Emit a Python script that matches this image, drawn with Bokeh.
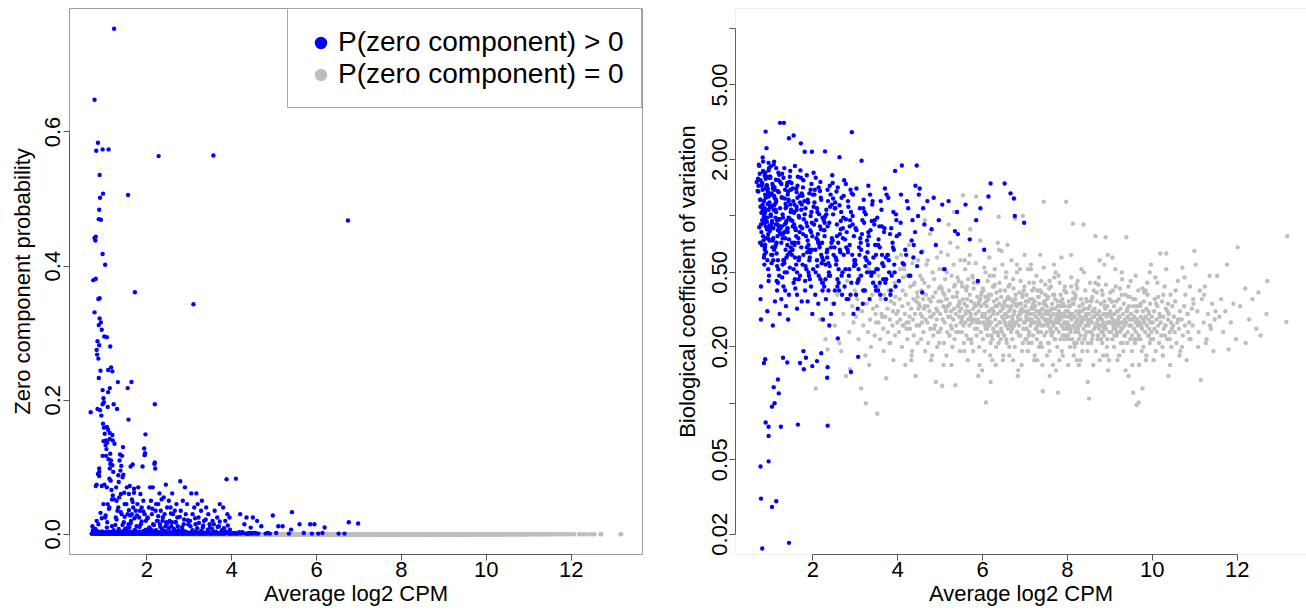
from bokeh.plotting import figure
from bokeh.layouts import row
from bokeh.models import FixedTicker, Legend, LegendItem, BoxAnnotation, Range1d
from bokeh.embed import file_html
from bokeh.resources import INLINE

# ---------------------------------------------------------------------------
# Genes with a non-zero zero-component probability (drawn in blue)
# average log2 CPM, zero-component probability, biological CV
# ---------------------------------------------------------------------------
blue_cpm = [
    # 0.68 - 1.0
    0.77, 0.85, 0.81, 0.96, 0.89, 0.97, 0.90, 0.88, 0.87, 0.92,
    0.77, 0.80, 0.79, 0.96, 0.74, 0.80, 0.89, 0.86, 0.77, 0.89,
    0.92, 0.87, 0.94, 0.84, 0.88, 0.82, 0.83, 0.86, 0.91, 0.87,
    0.96, 0.98, 0.99, 0.96, 0.68, 0.84, 0.90, 0.93, 0.97, 0.99,
    0.98, 0.96, 0.88, 0.88, 0.88, 0.82, 0.85, 0.80, 0.94, 0.72,
    0.75, 0.78, 0.83, 0.86, 0.91, 0.95, 0.99, 0.73, 0.76, 0.81,
    0.84, 0.89, 0.93, 0.97, 0.70, 0.74, 0.79, 0.82, 0.87, 0.92,
    0.95, 0.98, 0.71, 0.76, 0.78, 0.83, 0.85, 0.90, 0.94, 0.99,
    0.89, 0.96, 0.77, 0.78, 0.81, 0.72, 0.93, 0.86, 0.91, 0.97,
    # very low BCV
    1.10, 1.04, 0.89, 0.96, 1.25, 1.65, 2.35, 0.96, 0.96, 0.77,
    0.78, 1.14, 1.04, 1.44, 0.81,
    # low BCV
    0.85, 0.88, 1.30, 1.40, 1.70, 1.79, 1.99, 2.10, 2.35, 1.78,
    1.84, 2.34, 1.18, 1.20, 1.08, 2.20, 3.07, 2.90, 2.59, 2.39,
    # 1.0 - 1.25
    1.23, 1.10, 1.02, 1.00, 1.06, 1.14, 1.09, 1.16, 1.19, 1.09,
    1.13, 1.22, 1.06, 1.01, 1.07, 1.09, 1.13, 1.19, 1.13, 1.03,
    1.05, 1.20, 1.24, 1.14, 1.19, 1.12, 1.06, 1.17, 1.20, 1.13,
    1.21, 1.00, 1.15, 1.04, 1.10, 1.16, 1.08, 1.11, 1.02, 1.18,
    1.01, 1.03, 1.05, 1.07, 1.09, 1.11, 1.12, 1.14, 1.15, 1.17,
    1.18, 1.20, 1.21, 1.22, 1.23, 1.24, 1.06, 1.10, 1.16, 1.04,
    # 1.25 - 1.5
    1.32, 1.44, 1.37, 1.42, 1.40, 1.36, 1.38, 1.45, 1.33, 1.43,
    1.34, 1.30, 1.28, 1.35, 1.48, 1.31, 1.41, 1.27, 1.46, 1.39,
    1.29, 1.47, 1.26, 1.49, 1.33, 1.26, 1.27, 1.28, 1.29, 1.30,
    1.31, 1.32, 1.34, 1.35, 1.36, 1.37, 1.38, 1.39, 1.40, 1.41,
    1.42, 1.43, 1.44, 1.45, 1.46, 1.47, 1.48, 1.49, 1.35, 1.41,
    # 1.5 - 1.75
    1.56, 1.72, 1.64, 1.55, 1.57, 1.62, 1.67, 1.53, 1.60, 1.70,
    1.58, 1.65, 1.52, 1.68, 1.74, 1.55, 1.61, 1.71, 1.63, 1.57,
    1.50, 1.51, 1.52, 1.54, 1.55, 1.57, 1.58, 1.59, 1.61, 1.62,
    1.63, 1.64, 1.66, 1.67, 1.68, 1.69, 1.70, 1.71, 1.72, 1.73,
    1.74, 1.59,
    # 1.75 - 2.0
    1.97, 1.94, 1.95, 1.96, 1.90, 1.80, 1.85, 1.92, 1.78, 1.88,
    1.95, 1.82, 1.98, 1.86, 1.76, 1.75, 1.76, 1.77, 1.78, 1.79,
    1.81, 1.82, 1.83, 1.84, 1.85, 1.86, 1.87, 1.88, 1.89, 1.90,
    1.91, 1.92, 1.93, 1.94, 1.96, 1.97, 1.98, 1.99,
    # 2.0 - 2.25
    2.19, 2.19, 2.20, 2.18, 2.08, 2.14, 2.10, 2.22, 2.05, 2.21,
    2.12, 2.02, 2.24, 2.15, 2.06, 2.00, 2.01, 2.03, 2.04, 2.06,
    2.07, 2.09, 2.10, 2.11, 2.13, 2.14, 2.16, 2.17, 2.18, 2.20,
    2.22, 2.23, 2.24, 2.12,
    # 2.25 - 2.5
    2.28, 2.45, 2.30, 2.40, 2.35, 2.27, 2.48, 2.33, 2.42, 2.38,
    2.26, 2.46, 2.31, 2.44, 2.36, 2.25, 2.27, 2.29, 2.30, 2.32,
    2.34, 2.35, 2.37, 2.39, 2.40, 2.41, 2.43, 2.45, 2.47, 2.49,
    2.29, 2.38,
    # 2.5 - 2.75
    2.60, 2.52, 2.70, 2.56, 2.66, 2.62, 2.72, 2.54, 2.68, 2.58,
    2.64, 2.74, 2.50, 2.51, 2.53, 2.55, 2.57, 2.59, 2.61, 2.63,
    2.65, 2.67, 2.69, 2.71, 2.73, 2.61, 2.66, 2.56,
    # 2.75 - 3.0
    2.79, 2.90, 2.85, 2.95, 2.80, 2.92, 2.88, 2.98, 2.83, 2.75,
    2.76, 2.78, 2.80, 2.82, 2.84, 2.86, 2.87, 2.89, 2.91, 2.93,
    2.94, 2.96, 2.97, 2.99,
    # 3.0 - 3.25
    3.10, 3.17, 3.05, 3.20, 3.12, 3.08, 3.22, 3.02, 3.15, 3.00,
    3.01, 3.03, 3.06, 3.09, 3.11, 3.14, 3.16, 3.19, 3.21, 3.24,
    # 3.25 - 3.5
    3.30, 3.40, 3.28, 3.45, 3.35, 3.48, 3.32, 3.25, 3.27, 3.29,
    3.31, 3.34, 3.36, 3.38, 3.41, 3.43, 3.46, 3.49,
    # 3.5 - 3.75
    3.57, 3.72, 3.60, 3.66, 3.55, 3.70, 3.50, 3.52, 3.54, 3.58,
    3.62, 3.64, 3.68, 3.71, 3.74,
    # 3.75 - 4.0
    3.88, 3.80, 3.90, 3.95, 3.85, 3.76, 3.78, 3.83, 3.92, 3.97, 3.94,
    # 4.0 - 4.5
    4.10, 4.20, 4.35, 4.30, 4.45, 4.04, 4.08, 4.15, 4.25, 4.38, 4.48, 4.42,
    # 4.5 - 5.0
    4.50, 4.60, 4.97, 4.70, 4.80, 4.85, 4.58, 4.90,
    # 5.0 - 5.5
    5.42, 5.10, 5.20, 5.40, 5.35, 5.05,
    # 5.5 - 6.0
    5.60, 5.85, 5.95, 5.89, 5.70,
    # 6.0 - 7.0
    6.19, 6.04, 6.52, 6.66, 6.74, 6.76, 6.98, 6.14,
    # further genes along the low-probability band
    1.02, 1.08, 1.15, 1.21, 1.27, 1.33, 1.38, 1.44, 1.51, 1.57,
    1.63, 1.69, 1.74, 1.81, 1.87, 1.93, 1.99, 2.04, 2.11, 2.16,
    2.23, 2.28, 2.34, 2.41, 2.47, 2.53, 2.58, 2.64, 2.71, 2.77,
    2.83, 2.89, 2.94, 3.01, 3.07, 3.13, 3.18, 3.24, 3.31, 3.37,
    3.42, 3.47, 3.53, 3.59, 3.63, 3.69, 3.73, 3.79, 3.84, 3.89,
    3.93, 3.98, 4.03, 4.07, 4.12, 4.18, 4.22, 4.27, 4.33, 4.37,
    4.41, 4.46, 4.52, 4.56, 4.63, 0.82, 0.86, 0.91, 0.94, 0.98,
    1.03, 1.07, 1.12, 1.18, 1.23, 1.29, 1.34, 1.39, 1.43, 1.48,
    1.53, 1.58, 1.62, 1.67, 1.73, 1.77, 1.83, 1.88, 1.92, 1.98,
    2.02, 2.07, 2.13, 2.17, 2.22, 2.27, 2.32, 2.37, 2.43, 2.48,
    2.52, 2.57, 2.63, 2.68, 2.73, 2.78, 2.84, 2.87, 2.92, 2.97,
    3.03, 3.08, 3.14, 3.19, 3.23, 3.28, 3.33, 3.39, 3.44, 3.49,
    3.54, 3.58, 3.63, 3.67, 3.72, 3.77, 3.82, 3.86, 3.91, 3.96,
    0.83, 0.87, 0.92, 0.95, 0.97, 1.01, 1.05, 1.09, 1.13, 1.17,
    1.22, 1.26, 1.31, 1.36, 1.41, 1.46, 1.52, 1.56, 1.61, 1.66,
]

blue_p0 = [
    0.648, 0.584, 0.572, 0.574, 0.536, 0.508, 0.502, 0.484, 0.470, 0.469,
    0.442, 0.444, 0.438, 0.418, 0.379, 0.381, 0.352, 0.351, 0.331, 0.322,
    0.316, 0.312, 0.305, 0.288, 0.282, 0.275, 0.268, 0.262, 0.244, 0.233,
    0.215, 0.203, 0.197, 0.194, 0.182, 0.187, 0.185, 0.177, 0.165, 0.159,
    0.139, 0.117, 0.098, 0.093, 0.087, 0.074, 0.090, 0.072, 0.072, 0.012,
    0.004, 0.002, 0.001, 0.003, 0.001, 0.002, 0.001, 0.006, 0.002, 0.001,
    0.004, 0.001, 0.002, 0.003, 0.001, 0.002, 0.008, 0.001, 0.002, 0.001,
    0.003, 0.002, 0.001, 0.001, 0.002, 0.005, 0.001, 0.002, 0.001, 0.002,
    0.002, 0.001, 0.003, 0.001, 0.002, 0.001, 0.004, 0.002, 0.001, 0.002,
    # very low BCV
    0.002, 0.140, 0.001, 0.003, 0.001, 0.030, 0.002, 0.001, 0.004, 0.002,
    0.001, 0.120, 0.002, 0.001, 0.003,
    # low BCV
    0.002, 0.001, 0.003, 0.001, 0.062, 0.002, 0.001, 0.004, 0.001, 0.002,
    0.035, 0.001, 0.002, 0.001, 0.190, 0.003, 0.001, 0.002, 0.018, 0.001,
    # 1.0 - 1.25
    0.754, 0.574, 0.402, 0.295, 0.294, 0.280, 0.245, 0.249, 0.243, 0.212,
    0.218, 0.194, 0.160, 0.150, 0.137, 0.156, 0.151, 0.148, 0.142, 0.133,
    0.127, 0.140, 0.135, 0.105, 0.103, 0.083, 0.070, 0.066, 0.058, 0.098,
    0.093, 0.074, 0.080, 0.117, 0.112, 0.110, 0.045, 0.038, 0.025, 0.052,
    0.002, 0.001, 0.003, 0.001, 0.002, 0.004, 0.001, 0.002, 0.001, 0.003,
    0.001, 0.002, 0.001, 0.006, 0.002, 0.001, 0.010, 0.001, 0.002, 0.001,
    # 1.25 - 1.5
    0.227, 0.130, 0.119, 0.117, 0.102, 0.110, 0.095, 0.089, 0.088, 0.085,
    0.078, 0.187, 0.070, 0.055, 0.045, 0.035, 0.030, 0.025, 0.018, 0.060,
    0.050, 0.062, 0.014, 0.008, 0.040, 0.001, 0.002, 0.001, 0.003, 0.001,
    0.002, 0.001, 0.004, 0.001, 0.002, 0.001, 0.003, 0.001, 0.002, 0.001,
    0.001, 0.002, 0.001, 0.005, 0.001, 0.002, 0.001, 0.003, 0.001, 0.002,
    # 1.5 - 1.75
    0.506, 0.361, 0.227, 0.218, 0.171, 0.101, 0.104, 0.070, 0.072, 0.068,
    0.060, 0.052, 0.045, 0.040, 0.035, 0.030, 0.028, 0.024, 0.020, 0.015,
    0.001, 0.002, 0.001, 0.003, 0.001, 0.002, 0.001, 0.004, 0.001, 0.002,
    0.001, 0.003, 0.001, 0.002, 0.001, 0.001, 0.002, 0.006, 0.001, 0.002,
    0.001, 0.010,
    # 1.75 - 2.0
    0.149, 0.128, 0.118, 0.121, 0.101, 0.070, 0.060, 0.050, 0.045, 0.040,
    0.030, 0.025, 0.020, 0.015, 0.012, 0.001, 0.002, 0.001, 0.003, 0.001,
    0.002, 0.001, 0.001, 0.004, 0.002, 0.001, 0.003, 0.001, 0.002, 0.001,
    0.001, 0.002, 0.005, 0.001, 0.002, 0.001, 0.003, 0.001,
    # 2.0 - 2.25
    0.194, 0.107, 0.098, 0.105, 0.070, 0.070, 0.050, 0.045, 0.040, 0.035,
    0.030, 0.025, 0.020, 0.015, 0.010, 0.001, 0.002, 0.001, 0.003, 0.001,
    0.002, 0.001, 0.004, 0.001, 0.002, 0.001, 0.003, 0.001, 0.002, 0.001,
    0.001, 0.002, 0.001, 0.006,
    # 2.25 - 2.5
    0.564, 0.074, 0.061, 0.055, 0.052, 0.045, 0.040, 0.035, 0.030, 0.025,
    0.020, 0.018, 0.015, 0.012, 0.008, 0.001, 0.002, 0.001, 0.003, 0.001,
    0.002, 0.001, 0.001, 0.004, 0.002, 0.001, 0.003, 0.001, 0.002, 0.001,
    0.002, 0.001,
    # 2.5 - 2.75
    0.061, 0.050, 0.045, 0.040, 0.035, 0.030, 0.025, 0.020, 0.018, 0.012,
    0.008, 0.006, 0.001, 0.002, 0.001, 0.003, 0.001, 0.002, 0.001, 0.001,
    0.004, 0.002, 0.001, 0.003, 0.001, 0.002, 0.001, 0.002,
    # 2.75 - 3.0
    0.079, 0.070, 0.050, 0.045, 0.035, 0.030, 0.022, 0.015, 0.010, 0.001,
    0.002, 0.001, 0.003, 0.001, 0.002, 0.001, 0.001, 0.004, 0.002, 0.001,
    0.003, 0.001, 0.002, 0.001,
    # 3.0 - 3.25
    0.343, 0.061, 0.061, 0.045, 0.040, 0.030, 0.025, 0.020, 0.015, 0.001,
    0.002, 0.001, 0.003, 0.001, 0.002, 0.001, 0.004, 0.001, 0.002, 0.001,
    # 3.25 - 3.5
    0.050, 0.040, 0.035, 0.030, 0.020, 0.015, 0.010, 0.001, 0.002, 0.001,
    0.003, 0.001, 0.002, 0.001, 0.001, 0.004, 0.002, 0.001,
    # 3.5 - 3.75
    0.565, 0.045, 0.035, 0.025, 0.020, 0.012, 0.001, 0.002, 0.001, 0.003,
    0.001, 0.002, 0.001, 0.001, 0.002,
    # 3.75 - 4.0
    0.082, 0.040, 0.030, 0.025, 0.020, 0.001, 0.002, 0.001, 0.003, 0.001, 0.002,
    # 4.0 - 4.5
    0.083, 0.030, 0.025, 0.015, 0.010, 0.001, 0.002, 0.001, 0.003, 0.001, 0.002, 0.001,
    # 4.5 - 5.0
    0.025, 0.020, 0.028, 0.012, 0.001, 0.002, 0.001, 0.001,
    # 5.0 - 5.5
    0.033, 0.012, 0.012, 0.007, 0.001, 0.002,
    # 5.5 - 6.0
    0.015, 0.015, 0.015, 0.001, 0.002,
    # 6.0 - 7.0
    0.010, 0.001, 0.001, 0.001, 0.468, 0.018, 0.016, 0.002,
    # further genes along the low-probability band
    0.001, 0.002, 0.001, 0.003, 0.001, 0.002, 0.001, 0.001, 0.002, 0.001,
    0.002, 0.001, 0.004, 0.001, 0.002, 0.001, 0.003, 0.001, 0.002, 0.001,
    0.001, 0.002, 0.001, 0.001, 0.003, 0.001, 0.002, 0.001, 0.001, 0.002,
    0.001, 0.001, 0.002, 0.001, 0.004, 0.001, 0.002, 0.001, 0.001, 0.002,
    0.001, 0.002, 0.001, 0.001, 0.003, 0.001, 0.002, 0.001, 0.001, 0.002,
    0.001, 0.001, 0.002, 0.001, 0.001, 0.003, 0.001, 0.002, 0.001, 0.001,
    0.002, 0.001, 0.001, 0.002, 0.001, 0.020, 0.015, 0.032, 0.024, 0.045,
    0.028, 0.018, 0.040, 0.012, 0.052, 0.022, 0.008, 0.033, 0.014, 0.026,
    0.009, 0.036, 0.016, 0.048, 0.006, 0.028, 0.011, 0.019, 0.034, 0.007,
    0.024, 0.009, 0.038, 0.014, 0.006, 0.027, 0.011, 0.020, 0.005, 0.016,
    0.009, 0.031, 0.005, 0.018, 0.012, 0.026, 0.007, 0.015, 0.004, 0.021,
    0.012, 0.006, 0.024, 0.009, 0.017, 0.005, 0.013, 0.022, 0.007, 0.010,
    0.008, 0.015, 0.004, 0.011, 0.019, 0.006, 0.009, 0.004, 0.013, 0.007,
    0.001, 0.002, 0.001, 0.001, 0.002, 0.001, 0.003, 0.001, 0.002, 0.001,
    0.002, 0.001, 0.001, 0.003, 0.001, 0.002, 0.001, 0.001, 0.002, 0.001,
]

blue_bcv = [
    1.55, 1.20, 0.95, 1.75, 0.88, 1.32, 0.76, 1.05, 1.64, 0.93,
    1.12, 1.48, 0.82, 1.27, 1.85, 0.70, 1.40, 0.97, 1.22, 1.58,
    0.85, 1.10, 1.36, 0.92, 1.70, 1.15, 0.78, 1.02, 1.45, 0.66,
    1.30, 0.89, 1.62, 1.08, 1.52, 0.74, 1.26, 0.98, 1.80, 0.83,
    1.18, 0.45, 0.95, 1.30, 0.70, 1.10, 0.60, 1.45, 0.85, 1.35,
    1.68, 0.90, 1.95, 0.62, 1.42, 0.80, 1.12, 1.88, 0.72, 1.50,
    0.95, 1.25, 0.58, 1.60, 1.36, 0.87, 1.04, 2.05, 0.68, 1.30,
    0.52, 1.15, 1.58, 1.22, 0.42, 1.74, 0.99, 0.64, 1.40, 0.86,
    2.82, 1.92, 0.36, 0.28, 1.05, 1.45, 0.31, 0.55, 2.30, 0.48,
    # very low BCV
    0.100, 0.096, 0.079, 0.075, 0.075, 0.077, 0.076, 0.067, 0.049, 0.046,
    0.031, 0.030, 0.028, 0.018, 0.0168,
    # low BCV
    0.164, 0.172, 0.175, 0.165, 0.164, 0.152, 0.158, 0.168, 0.156, 0.190,
    0.175, 0.137, 0.134, 0.113, 0.122, 0.185, 0.177, 0.147, 0.222, 0.260,
    # 1.0 - 1.25
    3.14, 1.25, 0.88, 1.62, 0.74, 1.05, 1.38, 0.95, 1.70, 0.66,
    1.18, 0.82, 1.45, 1.00, 0.58, 1.28, 0.90, 1.55, 0.70, 1.12,
    0.62, 1.34, 0.86, 1.80, 0.52, 1.08, 1.40, 0.78, 0.96, 1.22,
    0.48, 1.60, 0.72, 0.92, 1.15, 0.40, 1.88, 0.68, 1.30, 0.84,
    1.02, 0.56, 1.48, 0.76, 1.95, 0.35, 0.98, 1.20, 0.63, 1.36,
    0.44, 0.88, 1.66, 0.30, 1.10, 0.80, 0.26, 1.42, 0.54, 0.94,
    # 1.25 - 1.5
    3.14, 2.60, 0.92, 1.35, 0.70, 1.10, 0.60, 1.52, 0.82, 1.22,
    0.50, 0.98, 1.68, 0.76, 1.05, 0.42, 1.30, 0.88, 0.64, 1.45,
    0.55, 1.15, 0.36, 0.95, 1.80, 0.72, 1.26, 0.47, 1.02, 0.80,
    1.60, 0.58, 0.90, 1.38, 0.66, 0.33, 1.12, 0.85, 1.50, 0.62,
    0.28, 1.20, 0.75, 0.97, 0.53, 1.74, 0.68, 1.08, 0.40, 0.86,
    # 1.5 - 1.75
    0.90, 2.44, 1.25, 2.69, 0.72, 1.08, 0.58, 1.40, 0.84, 1.18,
    0.46, 1.62, 0.66, 0.98, 1.32, 0.52, 0.78, 1.75, 0.38, 1.05,
    1.50, 0.62, 0.94, 1.20, 0.44, 0.70, 1.85, 0.86, 0.55, 1.12,
    0.32, 1.45, 0.76, 1.00, 0.60, 1.28, 0.48, 0.88, 1.60, 0.68,
    1.15, 0.41,
    # 1.75 - 2.0
    1.05, 0.64, 1.38, 0.82, 0.50, 1.20, 0.92, 0.58, 1.55, 0.74,
    1.00, 0.45, 2.20, 0.68, 1.28, 0.86, 0.55, 1.42, 0.62, 0.96,
    2.20, 0.40, 1.10, 0.78, 0.52, 1.65, 0.88, 0.35, 1.18, 0.70,
    0.48, 1.32, 0.60, 0.84, 0.42, 1.48, 0.66, 0.30,
    # 2.0 - 2.25
    0.85, 1.25, 0.62, 1.52, 0.95, 0.48, 1.10, 0.72, 1.38, 0.56,
    0.80, 1.70, 0.44, 1.02, 0.66, 1.30, 0.52, 0.90, 1.18, 0.38,
    1.60, 0.76, 0.58, 1.05, 0.34, 1.42, 0.68, 0.88, 0.46, 1.22,
    0.60, 0.98, 0.28, 0.74,
    # 2.25 - 2.5
    0.78, 1.15, 0.55, 1.45, 0.88, 0.42, 1.02, 0.64, 1.30, 0.50,
    0.95, 1.65, 0.36, 0.72, 1.20, 0.58, 0.84, 2.21, 0.46, 1.08,
    0.66, 1.38, 0.40, 0.92, 0.54, 1.12, 0.30, 0.76, 1.50, 0.62,
    0.99, 0.48,
    # 2.5 - 2.75
    0.72, 1.10, 0.50, 1.35, 0.85, 0.40, 0.98, 0.60, 1.25, 0.46,
    0.80, 1.55, 0.34, 0.68, 1.18, 0.55, 0.90, 1.42, 0.44, 2.06,
    0.64, 1.05, 0.38, 0.76, 1.28, 0.52, 0.94, 0.58,
    # 2.75 - 3.0
    0.68, 1.05, 0.48, 1.30, 0.82, 2.80, 0.95, 0.58, 1.20, 0.42,
    0.75, 1.48, 0.36, 0.66, 1.12, 0.52, 0.88, 1.38, 0.44, 0.62,
    1.00, 0.30, 0.78, 0.56,
    # 3.0 - 3.25
    0.62, 0.95, 0.44, 1.22, 0.76, 0.52, 1.05, 0.38, 1.97, 0.58,
    0.86, 1.40, 0.32, 0.68, 1.10, 0.48, 0.80, 0.40, 0.92, 0.54,
    # 3.25 - 3.5
    0.70, 1.15, 0.50, 0.90, 1.30, 0.42, 0.78, 1.02, 0.58, 0.64,
    1.45, 0.36, 0.84, 0.48, 1.20, 0.60, 0.95, 0.40,
    # 3.5 - 3.75
    0.88, 0.60, 1.20, 0.46, 0.75, 1.40, 0.52, 0.98, 0.40, 0.68,
    1.08, 0.56, 0.82, 0.44, 1.30,
    # 3.75 - 4.0
    0.72, 0.50, 1.05, 0.42, 0.86, 0.62, 1.25, 0.38, 0.55, 0.95, 1.74,
    # 4.0 - 4.5
    1.86, 0.62, 0.95, 0.48, 1.86, 0.80, 1.30, 0.55, 1.10, 0.70, 1.00, 1.45,
    # 4.5 - 5.0
    1.30, 1.10, 0.95, 1.20, 0.85, 1.25, 0.39, 0.70,
    # 5.0 - 5.5
    0.80, 0.52, 1.20, 1.05, 0.83, 1.15,
    # 5.5 - 6.0
    1.15, 0.95, 1.10, 0.45, 0.75,
    # 6.0 - 7.0
    1.49, 0.66, 1.49, 1.32, 1.24, 1.00, 0.92, 1.27,
    # further genes along the low-probability band
    0.62, 1.08, 0.45, 0.88, 1.25, 0.56, 0.94, 0.38, 0.72, 1.15,
    0.50, 0.82, 0.35, 1.02, 0.64, 0.46, 0.78, 1.30, 0.54, 0.70,
    0.40, 0.92, 0.60, 0.48, 0.74, 1.10, 0.42, 0.66, 0.86, 0.52,
    0.64, 0.38, 0.90, 0.55, 0.45, 0.72, 0.34, 0.60, 0.82, 0.50,
    0.44, 0.70, 0.52, 0.38, 0.62, 0.86, 0.46, 0.58, 0.40, 0.68,
    0.50, 0.78, 0.45, 0.92, 0.56, 0.66, 1.20, 0.48, 0.74, 0.60,
    0.82, 0.54, 1.40, 0.64, 0.90, 1.38, 0.92, 1.62, 1.16, 0.74,
    1.32, 0.86, 1.06, 0.58, 1.52, 0.76, 1.24, 0.50, 0.98, 1.38,
    0.88, 0.60, 1.34, 0.46, 1.08, 0.80, 0.54, 1.22, 0.66, 0.92,
    1.12, 0.50, 0.72, 1.36, 0.44, 0.84, 1.02, 0.56, 0.68, 1.24,
    0.40, 0.78, 1.14, 0.48, 0.62, 0.96, 0.36, 0.70, 1.32, 0.54,
    0.84, 0.46, 0.66, 1.10, 0.40, 0.74, 0.56, 0.94, 0.50, 0.62,
    0.70, 0.44, 0.88, 0.54, 0.36, 0.62, 0.80, 0.48, 0.66, 1.02,
    1.72, 0.98, 1.46, 0.76, 1.28, 1.84, 0.68, 1.14, 1.56, 0.90,
    0.96, 1.48, 0.58, 1.16, 0.82, 1.62, 0.66, 1.04, 1.40, 0.72,
]

# ---------------------------------------------------------------------------
# Genes whose zero-component probability is 0 (drawn in grey)
# average log2 CPM and biological CV
# ---------------------------------------------------------------------------
gray_cpm = [
    # 2.0 - 3.0
    2.07, 2.18, 2.30, 2.35, 2.46,
    2.52, 2.58, 2.63, 2.67, 2.72, 2.78, 2.81, 2.86, 2.88, 2.93, 2.96, 2.99,
    # 3.0 - 3.5
    3.02, 3.05, 3.08, 3.11, 3.14, 3.16, 3.19, 3.21, 3.24, 3.25,
    3.27, 3.30, 3.32, 3.35, 3.37, 3.40, 3.42, 3.44, 3.46, 3.48,
    3.49, 3.33,
    # 3.5 - 4.0
    3.51, 3.52, 3.55, 3.56, 3.59, 3.60, 3.62, 3.63, 3.66, 3.67,
    3.68, 3.71, 3.72, 3.73, 3.76, 3.77, 3.79, 3.82, 3.83, 3.84,
    3.86, 3.88, 3.89, 3.90, 3.93, 3.94, 3.95, 3.97, 3.98, 3.99,
    # 4.0 - 4.5
    4.01, 4.02, 4.03, 4.05, 4.06, 4.08, 4.10, 4.11, 4.12, 4.14,
    4.15, 4.17, 4.18, 4.19, 4.21, 4.22, 4.23, 4.25, 4.27, 4.28,
    4.29, 4.30, 4.32, 4.33, 4.35, 4.36, 4.37, 4.38, 4.40, 4.41,
    4.42, 4.44, 4.45, 4.46, 4.47, 4.48, 4.49, 4.26, 4.13, 4.34,
    # 4.5 - 5.0
    4.50, 4.51, 4.53, 4.54, 4.55, 4.56, 4.58, 4.59, 4.60, 4.61,
    4.62, 4.63, 4.65, 4.66, 4.67, 4.68, 4.70, 4.71, 4.72, 4.73,
    4.75, 4.76, 4.77, 4.78, 4.79, 4.80, 4.82, 4.83, 4.84, 4.85,
    4.86, 4.88, 4.89, 4.90, 4.91, 4.92, 4.93, 4.95, 4.96, 4.97,
    4.98, 4.99, 4.52, 4.57, 4.64, 4.74, 4.81, 4.94,
    # 5.0 - 5.5
    5.00, 5.01, 5.02, 5.03, 5.05, 5.06, 5.07, 5.08, 5.09, 5.10,
    5.11, 5.12, 5.14, 5.15, 5.16, 5.17, 5.18, 5.19, 5.21, 5.22,
    5.23, 5.24, 5.25, 5.26, 5.27, 5.29, 5.30, 5.31, 5.32, 5.33,
    5.34, 5.35, 5.36, 5.37, 5.38, 5.40, 5.41, 5.42, 5.43, 5.44,
    5.45, 5.46, 5.47, 5.48, 5.49, 5.04, 5.13, 5.20, 5.28, 5.39,
    5.08, 5.16, 5.24, 5.33, 5.45,
    # 5.5 - 6.0
    5.50, 5.51, 5.51, 5.53, 5.54, 5.54, 5.56, 5.57, 5.59, 5.59,
    5.60, 5.62, 5.62, 5.63, 5.65, 5.66, 5.66, 5.68, 5.69, 5.70,
    5.70, 5.72, 5.73, 5.73, 5.75, 5.76, 5.78, 5.78, 5.79, 5.80,
    5.81, 5.82, 5.84, 5.84, 5.85, 5.86, 5.88, 5.89, 5.89, 5.91,
    5.92, 5.92, 5.94, 5.95, 5.96, 5.96, 5.98, 5.99, 5.99, 5.52,
    5.55, 5.58, 5.61, 5.64, 5.67, 5.71, 5.74, 5.77, 5.83, 5.87,
    5.90, 5.97,
    # 6.0 - 6.5
    6.00, 6.01, 6.01, 6.03, 6.04, 6.05, 6.05, 6.07, 6.08, 6.08,
    6.10, 6.11, 6.12, 6.12, 6.14, 6.15, 6.16, 6.16, 6.18, 6.19,
    6.20, 6.20, 6.22, 6.23, 6.24, 6.25, 6.25, 6.27, 6.28, 6.29,
    6.30, 6.30, 6.32, 6.33, 6.33, 6.35, 6.36, 6.37, 6.38, 6.39,
    6.40, 6.40, 6.42, 6.43, 6.44, 6.44, 6.46, 6.47, 6.48, 6.49,
    6.02, 6.06, 6.09, 6.13, 6.17, 6.21, 6.26, 6.31, 6.34, 6.41,
    6.45, 6.06, 6.19, 6.27, 6.36, 6.47, 6.14, 6.38,
    # 6.5 - 7.0
    6.50, 6.51, 6.51, 6.53, 6.54, 6.55, 6.55, 6.57, 6.58, 6.59,
    6.60, 6.60, 6.62, 6.63, 6.64, 6.64, 6.66, 6.67, 6.68, 6.69,
    6.70, 6.71, 6.71, 6.73, 6.74, 6.75, 6.76, 6.77, 6.77, 6.79,
    6.80, 6.81, 6.81, 6.83, 6.84, 6.85, 6.86, 6.87, 6.87, 6.89,
    6.90, 6.90, 6.92, 6.93, 6.94, 6.95, 6.96, 6.96, 6.98, 6.99,
    6.52, 6.56, 6.58, 6.61, 6.65, 6.68, 6.72, 6.74, 6.78, 6.82,
    6.85, 6.88, 6.91, 6.95, 6.97, 6.53, 6.59, 6.66, 6.70, 6.83,
    6.89, 6.97,
    # 7.0 - 7.5
    7.00, 7.01, 7.01, 7.03, 7.04, 7.04, 7.06, 7.07, 7.08, 7.09,
    7.10, 7.10, 7.12, 7.13, 7.14, 7.15, 7.16, 7.16, 7.18, 7.19,
    7.20, 7.21, 7.22, 7.22, 7.24, 7.25, 7.26, 7.27, 7.28, 7.28,
    7.30, 7.31, 7.32, 7.33, 7.34, 7.34, 7.36, 7.37, 7.38, 7.39,
    7.40, 7.41, 7.41, 7.43, 7.44, 7.45, 7.46, 7.46, 7.48, 7.49,
    7.02, 7.05, 7.08, 7.11, 7.15, 7.18, 7.23, 7.26, 7.29, 7.32,
    7.35, 7.39, 7.42, 7.47, 7.03, 7.07, 7.13, 7.20, 7.27, 7.33,
    7.40, 7.47, 7.24, 7.38,
    # 7.5 - 8.0
    7.50, 7.51, 7.51, 7.53, 7.54, 7.55, 7.55, 7.57, 7.58, 7.59,
    7.60, 7.61, 7.61, 7.63, 7.64, 7.65, 7.66, 7.67, 7.67, 7.69,
    7.70, 7.71, 7.72, 7.72, 7.74, 7.75, 7.76, 7.77, 7.78, 7.79,
    7.80, 7.80, 7.82, 7.83, 7.84, 7.85, 7.86, 7.86, 7.88, 7.89,
    7.90, 7.91, 7.92, 7.93, 7.93, 7.95, 7.96, 7.97, 7.98, 7.99,
    7.52, 7.56, 7.59, 7.62, 7.66, 7.69, 7.73, 7.76, 7.81, 7.83,
    7.87, 7.90, 7.94, 7.97, 7.54, 7.60, 7.68, 7.74, 7.82, 7.89,
    7.95, 7.58, 7.71, 7.85,
    # 8.0 - 8.5
    8.00, 8.01, 8.01, 8.03, 8.04, 8.05, 8.06, 8.06, 8.08, 8.09,
    8.10, 8.11, 8.12, 8.13, 8.14, 8.15, 8.15, 8.17, 8.18, 8.19,
    8.20, 8.21, 8.22, 8.23, 8.24, 8.25, 8.26, 8.27, 8.28, 8.29,
    8.30, 8.31, 8.32, 8.33, 8.34, 8.35, 8.36, 8.38, 8.38, 8.39,
    8.40, 8.41, 8.42, 8.43, 8.44, 8.45, 8.46, 8.47, 8.48, 8.49,
    8.02, 8.07, 8.11, 8.16, 8.19, 8.24, 8.28, 8.33, 8.37, 8.42,
    8.46, 8.04, 8.13, 8.22, 8.31, 8.40, 8.09, 8.27, 8.44, 8.17,
    # 8.5 - 9.0
    8.50, 8.51, 8.52, 8.53, 8.53, 8.55, 8.56, 8.57, 8.58, 8.59,
    8.60, 8.61, 8.62, 8.63, 8.64, 8.66, 8.66, 8.67, 8.68, 8.70,
    8.70, 8.71, 8.72, 8.74, 8.74, 8.75, 8.76, 8.77, 8.79, 8.79,
    8.80, 8.81, 8.82, 8.83, 8.85, 8.85, 8.86, 8.87, 8.88, 8.89,
    8.90, 8.91, 8.92, 8.93, 8.94, 8.95, 8.96, 8.97, 8.98, 8.99,
    8.54, 8.58, 8.63, 8.68, 8.73, 8.78, 8.83, 8.88, 8.93, 8.98,
    8.56, 8.71, 8.86, 8.95,
    # 9.0 - 9.5
    9.00, 9.01, 9.03, 9.03, 9.05, 9.06, 9.07, 9.08, 9.10, 9.10,
    9.11, 9.13, 9.14, 9.14, 9.16, 9.17, 9.18, 9.19, 9.21, 9.21,
    9.23, 9.24, 9.25, 9.26, 9.27, 9.28, 9.29, 9.31, 9.32, 9.33,
    9.34, 9.35, 9.36, 9.37, 9.38, 9.39, 9.40, 9.42, 9.42, 9.44,
    9.45, 9.46, 9.47, 9.48, 9.49, 9.02, 9.09, 9.15, 9.20, 9.30,
    9.41, 9.12, 9.22, 9.34, 9.43, 9.47, 9.06, 9.27,
    # 9.5 - 10.0
    9.50, 9.51, 9.52, 9.54, 9.55, 9.55, 9.57, 9.58, 9.59, 9.60,
    9.61, 9.62, 9.62, 9.63, 9.65, 9.66, 9.67, 9.68, 9.68, 9.70,
    9.71, 9.72, 9.73, 9.75, 9.76, 9.77, 9.78, 9.79, 9.80, 9.81,
    9.83, 9.84, 9.85, 9.86, 9.87, 9.88, 9.90, 9.91, 9.92, 9.93,
    9.94, 9.95, 9.96, 9.97, 9.98, 9.99, 9.53, 9.64, 9.74, 9.89,
    # 10.0 - 10.5
    10.01, 10.02, 10.04, 10.05, 10.06, 10.08, 10.10, 10.11, 10.12, 10.14,
    10.16, 10.17, 10.19, 10.20, 10.21, 10.23, 10.25, 10.26, 10.27, 10.29,
    10.31, 10.32, 10.33, 10.35, 10.37, 10.38, 10.39, 10.41, 10.43, 10.44,
    10.45, 10.47, 10.49, 10.07, 10.18, 10.30, 10.36, 10.46,
    # 10.5 - 11.0
    10.51, 10.53, 10.54, 10.57, 10.59, 10.60, 10.63, 10.65, 10.66, 10.69,
    10.71, 10.72, 10.75, 10.77, 10.78, 10.81, 10.83, 10.84, 10.87, 10.89,
    10.90, 10.93, 10.95, 10.96, 10.99, 10.70,
    # 11.0 - 13.2
    11.02, 11.06, 11.09, 11.14, 11.17, 11.21, 11.24, 11.28, 11.31, 11.35,
    11.38, 11.41, 11.44, 11.47, 11.12, 11.26,
    11.53, 11.58, 11.62, 11.67, 11.72, 11.76, 11.80, 11.85, 11.91, 11.97,
    12.01, 12.07, 12.19, 12.20, 12.28, 12.36, 12.45,
    12.50, 12.55, 12.69, 12.71, 13.16, 13.18,
    # further genes across the main cloud
    3.55, 3.81, 4.06, 4.32, 4.58, 4.71, 4.93, 5.12, 5.27, 5.41,
    5.57, 5.68, 5.79, 5.93, 6.04, 6.18, 6.27, 6.39, 6.48, 6.56,
    6.63, 6.72, 6.81, 6.92, 6.99, 7.06, 7.14, 7.21, 7.29, 7.36,
    7.44, 7.52, 7.58, 7.66, 7.73, 7.79, 7.87, 7.94, 8.02, 8.09,
    8.17, 8.23, 8.31, 8.39, 8.47, 8.53, 8.61, 8.69, 8.76, 8.84,
    8.91, 8.98, 9.07, 9.13, 9.22, 9.29, 9.37, 9.44, 9.52, 9.61,
    9.69, 9.77, 9.86, 9.94, 10.03, 10.12, 10.24, 10.33, 10.42, 10.55,
    10.64, 10.76, 10.88, 10.97, 11.08, 11.22, 11.36, 11.49, 5.02, 5.33,
    5.14, 5.38, 5.61, 5.86, 6.07, 6.23, 6.42, 6.61, 6.77, 6.94,
    7.09, 7.23, 7.37, 7.48, 7.62, 7.77, 7.88, 8.03, 8.14, 8.26,
    8.36, 8.48, 8.59, 8.72, 8.81, 8.94, 9.04, 9.17, 9.28, 9.41,
    9.55, 9.66, 9.81, 9.92, 10.09, 10.26, 10.41, 4.12, 4.38, 4.64,
    4.86, 5.07, 5.22, 5.46, 5.63, 5.74, 5.91, 6.11, 6.29, 6.46,
    6.58, 6.69, 6.86, 7.02, 7.17, 7.31, 7.45, 7.57, 7.71, 7.84,
    7.98, 8.12, 8.21, 8.35, 8.44, 8.57, 8.66, 8.79, 8.87, 9.01,
    9.11, 9.24, 9.33, 9.47, 9.58, 9.72, 9.84, 9.97, 10.14, 10.31,
    3.64, 3.92, 4.21, 4.47, 4.77, 4.98, 5.18, 5.51, 5.72, 5.95,
    6.13, 6.34, 6.53, 6.74, 6.89, 7.04, 7.19, 7.34, 7.51, 7.64,
    7.81, 7.92, 8.06, 8.19, 8.33, 8.49, 8.63, 8.75, 8.92, 9.06,
    9.19, 9.36, 9.49, 9.63, 9.79, 9.91, 10.18, 10.37, 10.61, 10.83,
]

gray_bcv = [
    # 2.0 - 3.0
    0.12, 0.28, 0.22, 0.194, 0.34,
    0.26, 0.38, 0.21, 0.19, 0.30, 0.14, 0.45, 0.24, 0.152, 0.33, 0.27, 0.40,
    # 3.0 - 3.5
    0.29, 0.36, 0.22, 0.48, 0.12, 0.31, 0.26, 0.40, 0.18, 0.10,
    0.34, 0.24, 0.52, 0.28, 0.20, 0.38, 0.32, 0.44, 0.23, 0.30,
    0.27, 0.16,
    # 3.5 - 4.0
    0.33, 0.088, 0.27, 0.42, 0.22, 0.36, 0.30, 0.55, 0.25, 0.19,
    0.38, 0.29, 0.46, 0.136, 0.32, 0.24, 0.40, 0.28, 0.21, 0.35,
    0.50, 0.26, 0.31, 0.17, 0.44, 0.23, 0.37, 0.30, 0.60, 0.27,
    # 4.0 - 4.5
    0.31, 0.45, 0.24, 0.36, 0.28, 0.62, 0.20, 0.33, 0.40, 0.26,
    0.52, 0.30, 0.16, 0.38, 0.27, 0.48, 0.22, 0.34, 0.70, 0.29,
    0.25, 0.42, 0.32, 0.18, 0.56, 0.28, 0.36, 0.23, 0.44, 0.30,
    0.14, 0.35, 0.26, 0.39, 0.21, 0.58, 0.32, 0.27, 0.47, 0.19,
    # 4.5 - 5.0
    0.34, 0.26, 0.48, 0.30, 0.22, 0.40, 0.29, 0.65, 0.36, 0.24,
    0.32, 0.44, 0.19, 0.28, 0.38, 0.55, 0.27, 0.33, 0.21, 0.42,
    0.31, 0.80, 0.25, 0.35, 0.17, 0.29, 0.50, 0.37, 0.23, 0.30,
    0.46, 0.26, 0.39, 0.13, 0.32, 0.28, 0.60, 0.24, 0.35, 0.41,
    0.21, 0.52, 0.33, 0.27, 0.95, 0.36, 0.18, 0.31,
    # 5.0 - 5.5
    0.30, 0.42, 0.25, 0.35, 0.124, 0.28, 0.52, 0.33, 0.21, 0.38,
    0.27, 0.46, 0.31, 0.18, 0.36, 0.24, 0.62, 0.29, 0.40, 0.23,
    0.34, 0.72, 0.26, 0.31, 0.48, 0.20, 0.37, 0.28, 0.55, 0.32,
    0.22, 0.43, 0.125, 0.30, 0.26, 0.39, 0.68, 0.33, 0.24, 0.45,
    0.29, 0.35, 0.19, 0.58, 0.27, 0.41, 0.32, 0.90, 0.25, 0.37,
    0.16, 0.50, 0.29, 1.05, 0.34,
    # 5.5 - 6.0
    0.32, 0.24, 0.44, 0.29, 0.36, 1.29, 0.21, 0.34, 0.27, 0.52,
    0.30, 0.40, 0.23, 0.33, 0.17, 0.28, 0.46, 0.31, 0.26, 0.38,
    0.62, 0.29, 0.22, 0.35, 0.27, 0.48, 0.32, 0.19, 0.41, 0.28,
    0.34, 0.25, 0.56, 0.30, 1.27, 0.23, 0.37, 0.28, 0.44, 0.31,
    0.20, 0.35, 0.27, 0.74, 0.33, 0.24, 0.39, 0.29, 0.15, 0.42,
    0.26, 0.58, 0.31, 0.36, 0.22, 0.85, 0.28, 0.47, 0.33, 0.25,
    0.14, 0.38,
    # 6.0 - 6.5
    0.30, 0.22, 0.41, 0.27, 0.34, 0.19, 0.29, 0.50, 0.25, 0.101,
    0.33, 0.28, 0.45, 0.23, 0.36, 0.31, 0.26, 0.60, 0.29, 0.21,
    0.38, 0.27, 0.32, 0.17, 0.42, 0.25, 0.30, 0.35, 0.24, 0.52,
    0.28, 0.33, 0.20, 0.39, 0.26, 0.30, 0.72, 0.23, 0.99, 0.34,
    0.27, 0.44, 0.31, 0.22, 0.37, 0.25, 0.29, 0.55, 0.32, 0.18,
    0.40, 0.26, 0.35, 0.28, 0.48, 0.23, 0.31, 0.16, 0.36, 0.27,
    0.65, 0.30, 0.13, 0.42, 0.24, 0.33, 0.38, 0.21,
    # 6.5 - 7.0
    0.28, 0.34, 0.23, 0.40, 0.30, 0.26, 0.47, 0.21, 0.33, 0.29,
    0.37, 0.25, 0.31, 0.18, 0.27, 0.43, 0.32, 0.24, 0.58, 0.29,
    0.22, 0.35, 0.28, 0.41, 0.26, 0.31, 0.20, 0.36, 0.97, 0.27,
    0.33, 0.24, 0.50, 0.29, 0.15, 0.34, 0.26, 0.39, 0.30, 0.23,
    0.45, 0.28, 0.32, 0.19, 0.37, 1.00, 0.25, 0.31, 0.27, 0.62,
    0.35, 0.22, 0.29, 0.42, 0.26, 0.33, 0.17, 0.30, 0.38, 0.24,
    0.28, 0.52, 0.34, 0.21, 0.31, 0.27, 0.70, 0.36, 0.25, 0.14,
    0.30, 0.40,
    # 7.0 - 7.5
    0.27, 0.33, 0.22, 0.29, 0.38, 0.25, 0.31, 0.19, 0.35, 0.28,
    0.44, 0.24, 0.30, 0.26, 0.55, 0.32, 0.21, 0.28, 0.36, 0.23,
    0.30, 0.41, 0.27, 0.17, 0.33, 0.25, 0.29, 0.48, 0.22, 0.31,
    0.26, 0.37, 0.28, 0.20, 0.34, 0.27, 0.62, 0.30, 0.24, 0.39,
    0.29, 0.16, 0.32, 0.26, 1.19, 0.35, 0.23, 0.28, 0.43, 0.31,
    0.25, 0.30, 0.21, 0.36, 0.27, 0.33, 0.18, 0.29, 0.40, 0.24,
    0.31, 0.26, 0.116, 0.34, 0.22, 0.52, 0.28, 0.32, 0.25, 0.37,
    0.20, 0.30, 0.27, 0.45,
    # 7.5 - 8.0
    0.28, 0.24, 0.33, 0.26, 0.21, 0.30, 0.37, 0.27, 0.19, 0.31,
    0.25, 0.42, 0.29, 0.23, 0.34, 0.27, 0.16, 0.30, 0.26, 0.38,
    0.22, 0.32, 0.28, 0.50, 0.25, 0.29, 0.20, 0.35, 0.114, 0.27,
    0.31, 0.24, 0.44, 0.28, 0.22, 0.33, 0.26, 0.60, 0.29, 0.18,
    0.34, 0.25, 0.30, 0.27, 0.40, 0.23, 0.31, 1.19, 0.26, 0.29,
    0.36, 0.21, 0.28, 0.32, 0.24, 0.47, 0.27, 0.30, 0.17, 0.35,
    0.26, 0.29, 0.22, 0.39, 0.31, 0.25, 0.55, 0.28, 0.33, 0.23,
    0.27, 0.14, 0.36, 0.30,
    # 8.0 - 8.5
    0.27, 0.31, 0.23, 0.35, 0.26, 0.29, 0.20, 0.33, 0.25, 0.42,
    0.28, 0.22, 0.30, 0.91, 0.26, 0.34, 0.18, 0.29, 0.24, 0.38,
    0.27, 0.31, 0.21, 0.28, 0.45, 0.25, 0.30, 0.16, 0.33, 0.26,
    0.29, 0.23, 0.36, 0.27, 0.31, 0.19, 0.28, 0.90, 0.25, 0.32,
    0.22, 0.29, 0.40, 0.26, 0.30, 0.24, 0.35, 0.28, 0.13, 0.27,
    0.33, 0.24, 0.29, 0.21, 0.37, 0.26, 0.31, 0.52, 0.28, 0.23,
    0.30, 0.25, 0.34, 0.17, 0.27, 0.32, 0.62, 0.22, 0.29, 0.36,
    # 8.5 - 9.0
    0.26, 0.106, 0.30, 0.24, 0.33, 0.28, 0.21, 0.36, 0.27, 0.31,
    0.23, 0.29, 0.40, 0.25, 0.32, 0.78, 0.26, 0.19, 0.30, 0.27,
    0.35, 0.22, 0.28, 0.47, 0.25, 0.31, 0.17, 0.29, 0.26, 0.34,
    0.24, 0.28, 0.21, 0.38, 0.27, 0.30, 0.23, 0.55, 0.26, 0.32,
    0.77, 0.25, 0.29, 0.20, 0.33, 0.27, 0.15, 0.30, 0.24, 0.36,
    0.28, 0.22, 0.31, 0.26, 0.43, 0.29, 0.24, 0.33, 0.18, 0.27,
    0.35, 0.30, 0.25, 0.62,
    # 9.0 - 9.5
    0.27, 0.31, 0.24, 0.29, 0.35, 0.22, 0.28, 0.26, 0.33, 0.20,
    0.30, 0.25, 0.42, 0.27, 0.23, 0.31, 0.17, 0.28, 0.36, 0.26,
    0.29, 0.24, 0.32, 0.21, 0.27, 0.50, 0.25, 0.30, 0.19, 0.34,
    0.26, 0.28, 0.23, 0.38, 0.27, 0.77, 0.31, 0.24, 0.29, 0.14,
    0.33, 0.26, 0.28, 0.22, 0.45, 0.30, 0.25, 0.35, 0.27, 0.21,
    0.32, 0.26, 0.29, 0.23, 0.37, 0.28, 0.60, 0.25,
    # 9.5 - 10.0
    0.26, 0.30, 0.23, 0.28, 0.114, 0.33, 0.25, 0.29, 0.21, 0.36,
    0.27, 0.24, 0.31, 0.098, 0.28, 0.26, 0.40, 0.23, 0.101, 0.27,
    0.33, 0.22, 0.29, 0.19, 0.25, 0.12, 0.31, 0.20, 0.35, 0.27,
    0.24, 0.29, 0.17, 0.32, 0.26, 0.44, 0.23, 0.28, 0.30, 0.25,
    0.21, 0.34, 0.27, 0.55, 0.24, 0.29, 0.16, 0.31, 0.26, 0.38,
    # 10.0 - 10.5
    0.27, 0.22, 0.31, 0.25, 0.36, 0.19, 0.28, 0.24, 0.33, 0.26,
    0.21, 0.30, 0.63, 0.27, 0.23, 0.35, 0.18, 0.29, 0.25, 0.42,
    0.26, 0.32, 0.63, 0.22, 0.28, 0.14, 0.30, 0.24, 0.38, 0.27,
    0.20, 0.33, 0.26, 0.47, 0.29, 0.23, 0.31, 0.25,
    # 10.5 - 11.0
    0.29, 0.24, 0.35, 0.21, 0.27, 0.45, 0.25, 0.31, 0.19, 0.28,
    0.53, 0.23, 0.33, 0.26, 0.38, 0.17, 0.30, 0.24, 0.27, 0.42,
    0.22, 0.32, 0.26, 0.36, 0.65, 0.20,
    # 11.0 - 13.2
    0.55, 0.31, 0.24, 0.133, 0.36, 0.27, 0.42, 0.22, 0.30, 0.48,
    0.25, 0.34, 0.19, 0.28, 0.40, 0.21,
    0.48, 0.29, 0.36, 0.24, 0.31, 0.55, 0.194, 0.27, 0.34, 0.22,
    0.68, 0.33, 0.41, 0.21, 0.28, 0.36, 0.25,
    0.39, 0.23, 0.30, 0.45, 0.272, 0.779,
    # further genes across the main cloud
    0.48, 0.21, 0.52, 0.17, 0.46, 0.58, 0.20, 0.52, 0.16, 0.47,
    0.19, 0.56, 0.44, 0.16, 0.53, 0.18, 0.48, 0.66, 0.17, 0.50,
    0.20, 0.46, 0.55, 0.16, 0.42, 0.19, 0.52, 0.44, 0.17, 0.40,
    0.53, 0.18, 0.45, 0.38, 0.15, 0.48, 0.19, 0.42, 0.16, 0.47,
    0.20, 0.41, 0.17, 0.50, 0.19, 0.44, 0.16, 0.39, 0.58, 0.18,
    0.43, 0.17, 0.40, 0.52, 0.18, 0.46, 0.15, 0.42, 0.19, 0.48,
    0.16, 0.41, 0.18, 0.50, 0.17, 0.44, 0.20, 0.52, 0.16, 0.40,
    0.18, 0.47, 0.22, 0.34, 0.20, 0.38, 0.26, 0.31, 0.64, 0.42,
    0.36, 0.24, 0.41, 0.27, 0.37, 0.22, 0.40, 0.26, 0.34, 0.38,
    0.23, 0.35, 0.21, 0.38, 0.24, 0.33, 0.36, 0.22, 0.39, 0.24,
    0.34, 0.21, 0.37, 0.23, 0.40, 0.22, 0.35, 0.24, 0.38, 0.21,
    0.36, 0.22, 0.39, 0.23, 0.34, 0.38, 0.22, 0.26, 0.43, 0.33,
    0.25, 0.39, 0.23, 0.31, 0.42, 0.21, 0.34, 0.25, 0.43, 0.24,
    0.36, 0.27, 0.23, 0.35, 0.40, 0.24, 0.34, 0.41, 0.22, 0.38,
    0.25, 0.36, 0.43, 0.21, 0.36, 0.24, 0.44, 0.22, 0.35, 0.39,
    0.23, 0.41, 0.27, 0.37, 0.22, 0.34, 0.40, 0.22, 0.37, 0.26,
    0.29, 0.34, 0.25, 0.37, 0.29, 0.24, 0.33, 0.28, 0.30, 0.36,
    0.27, 0.33, 0.30, 0.26, 0.31, 0.28, 0.34, 0.30, 0.27, 0.32,
    0.29, 0.33, 0.30, 0.25, 0.28, 0.32, 0.29, 0.26, 0.30, 0.27,
    0.31, 0.27, 0.30, 0.33, 0.28, 0.31, 0.29, 0.34, 0.28, 0.30,
]

assert len(blue_cpm) == len(blue_p0) == len(blue_bcv)
assert len(gray_cpm) == len(gray_bcv)

# grey genes all sit at a zero-component probability of exactly 0
gray_p0 = [0.0 for _ in gray_cpm]

x_ticks = [2, 4, 6, 8, 10, 12]
p0_ticks = [0.0, 0.2, 0.4, 0.6]
p0_labels = {0.0: "0.0", 0.2: "0.2", 0.4: "0.4", 0.6: "0.6"}
bcv_ticks = [0.02, 0.05, 0.2, 0.5, 2, 5]
bcv_minor = [0.1, 1, 10]
bcv_labels = {0.02: "0.02", 0.05: "0.05", 0.2: "0.20", 0.5: "0.50", 2: "2.00", 5: "5.00"}

legend_labels = ["P(zero component) > 0", "P(zero component) = 0"]

FONT = "Liberation Sans"
BLUE = "#0000FF"
GREY = "#BEBEBE"
AXIS = "#555555"
BOX = "#9c9c9c"
DOT = 4.4

# R-style 4% padding around the data ranges
all_x = blue_cpm + gray_cpm
x_lo, x_hi = min(all_x), max(all_x)
x_pad = 0.04 * (x_hi - x_lo)
x_start, x_end = x_lo - x_pad, x_hi + x_pad
p_hi = max(blue_p0)
p_pad = 0.04 * p_hi


def style(p):
    p.xgrid.visible = False
    p.ygrid.visible = False
    p.background_fill_color = "white"
    p.border_fill_color = "white"
    for ax in list(p.xaxis) + list(p.yaxis):
        ax.axis_line_color = AXIS
        ax.axis_line_width = 1
        ax.major_tick_line_color = AXIS
        ax.major_tick_out = 6
        ax.major_tick_in = 0
        ax.minor_tick_line_color = None
        ax.major_label_text_font = FONT
        ax.major_label_text_font_size = "22px"
        ax.major_label_text_color = "black"
        ax.axis_label_text_font = FONT
        ax.axis_label_text_font_size = "22px"
        ax.axis_label_text_font_style = "normal"
        ax.axis_label_text_color = "black"
    p.xaxis.ticker = FixedTicker(ticks=x_ticks)
    p.xaxis.bounds = (min(x_ticks), max(x_ticks))
    p.xaxis.major_label_standoff = 1
    p.xaxis.axis_label_standoff = 1
    p.xaxis.axis_label = "Average log2 CPM"
    p.yaxis.major_label_orientation = "vertical"


# ---------------- left panel: zero-component probability ----------------
p1 = figure(
    width=660, height=614,
    x_range=Range1d(x_start, x_end),
    y_range=Range1d(-p_pad, p_hi + p_pad),
    output_backend="svg", toolbar_location=None,
    min_border_left=69, min_border_right=18, min_border_top=8, min_border_bottom=60,
)
style(p1)
p1.outline_line_color = BOX
p1.yaxis.ticker = FixedTicker(ticks=p0_ticks)
p1.yaxis.bounds = (min(p0_ticks), max(p0_ticks))
p1.yaxis.major_label_overrides = p0_labels
p1.yaxis.major_label_standoff = 3
p1.yaxis.axis_label_standoff = 8
p1.yaxis.axis_label = "Zero component probability"

r_gray = p1.scatter(gray_cpm, gray_p0, size=DOT, fill_color=GREY, line_color=None)
r_blue = p1.scatter(blue_cpm, blue_p0, size=DOT, fill_color=BLUE, line_color=None)

legend = Legend(
    items=[LegendItem(label=legend_labels[0], renderers=[r_blue]),
           LegendItem(label=legend_labels[1], renderers=[r_gray])],
    location="top_right", orientation="vertical",
    margin=0, padding=17, spacing=0,
    glyph_width=31, glyph_height=31, label_height=32, label_width=286,
    label_standoff=2,
    label_text_font=FONT, label_text_font_size="28px", label_text_color="black",
    border_line_color=AXIS, border_line_width=1,
    background_fill_color="white", background_fill_alpha=1.0,
)
p1.add_layout(legend)

# ---------------- right panel: biological coefficient of variation ----------------
x_end2 = x_start + (x_end - x_start) * 571.0 / 573.0
p2 = figure(
    width=646, height=614,
    x_range=Range1d(x_start, x_end2),
    y_range=Range1d(0.0156, 12.8),
    y_axis_type="log",
    output_backend="svg", toolbar_location=None,
    min_border_left=75, min_border_right=0, min_border_top=8, min_border_bottom=60,
)
style(p2)
p2.outline_line_color = None
p2.yaxis.ticker = FixedTicker(ticks=bcv_ticks, minor_ticks=bcv_minor)
p2.yaxis.bounds = (0.02, 10)
p2.yaxis.major_label_overrides = bcv_labels
p2.yaxis.minor_tick_line_color = AXIS
p2.yaxis.minor_tick_out = 6
p2.yaxis.minor_tick_in = 0
p2.yaxis.major_label_standoff = 2
p2.yaxis.axis_label_standoff = 10
p2.yaxis.axis_label = "Biological coefficient of variation"

# frame box whose right edge runs past the canvas
p2.add_layout(BoxAnnotation(left=x_start, right=x_end2 + 1.0, bottom=0.0156, top=12.8,
                            fill_color=None, fill_alpha=0, line_color=BOX, line_width=1))

p2.scatter(gray_cpm, gray_bcv, size=DOT, fill_color=GREY, line_color=None)
p2.scatter(blue_cpm, blue_bcv, size=DOT, fill_color=BLUE, line_color=None)

layout = row(p1, p2, spacing=0)
open("out.html", "w").write(file_html(layout, INLINE))
